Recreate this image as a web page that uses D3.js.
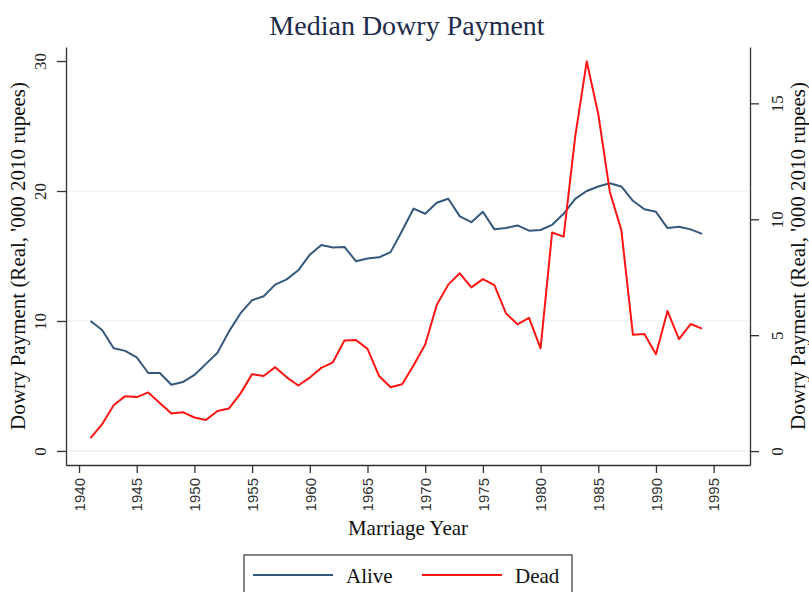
<!DOCTYPE html>
<html>
<head>
<meta charset="utf-8">
<script src="https://cdn.jsdelivr.net/npm/d3@7"></script>
<style>
  body { margin: 0; background: #fff; }
  svg { display: block; }
</style>
</head>
<body>
<svg id="chart" width="809" height="592"></svg>
<script>
// marriage years and median dowry ('000 2010 rupees)
var years = [1941, 1942, 1943, 1944, 1945, 1946, 1947, 1948, 1949, 1950,
             1951, 1952, 1953, 1954, 1955, 1956, 1957, 1958, 1959, 1960,
             1961, 1962, 1963, 1964, 1965, 1966, 1967, 1968, 1969, 1970,
             1971, 1972, 1973, 1974, 1975, 1976, 1977, 1978, 1979, 1980,
             1981, 1982, 1983, 1984, 1985, 1986, 1987, 1988, 1989, 1990,
             1991, 1992, 1993, 1994];

// left axis
var alive = [10.0, 9.3, 7.9, 7.7, 7.2, 6.0, 6.0, 5.1, 5.3, 5.85,
             6.7, 7.55, 9.2, 10.6, 11.6, 11.9, 12.8, 13.2, 13.9, 15.1,
             15.85, 15.65, 15.7, 14.6, 14.8, 14.9, 15.3, 16.95, 18.65, 18.25,
             19.1, 19.4, 18.05, 17.6, 18.4, 17.05, 17.15, 17.35, 16.95, 17.0,
             17.4, 18.25, 19.4, 20.0, 20.35, 20.6, 20.35, 19.25, 18.6, 18.4,
             17.15, 17.25, 17.05, 16.7];

// right axis
var dead = [0.56, 1.16, 1.98, 2.37, 2.33, 2.53, 2.07, 1.62, 1.68, 1.45,
            1.34, 1.73, 1.84, 2.49, 3.32, 3.24, 3.62, 3.18, 2.83, 3.17,
            3.59, 3.83, 4.77, 4.79, 4.41, 3.24, 2.75, 2.88, 3.70, 4.60,
            6.30, 7.18, 7.67, 7.06, 7.42, 7.16, 5.94, 5.47, 5.75, 4.43,
            9.43, 9.25, 13.56, 16.81, 14.54, 11.19, 9.53, 5.02, 5.05, 4.18,
            6.04, 4.83, 5.48, 5.28];

var xTicks = [1940, 1945, 1950, 1955, 1960, 1965, 1970, 1975, 1980, 1985, 1990, 1995];
var leftTicks = [0, 10, 20, 30];
var rightTicks = [0, 5, 10, 15];
var gridVals = [0, 10, 20];

var serif = "'Liberation Serif', 'Times New Roman', serif";
var blue = "#34587c", red = "#ff1414";

var svg = d3.select("#chart");
var pLeft = 66, pRight = 750, pTop = 47, pBottom = 465;

var x = d3.scaleLinear().domain([1938.87, 1998.15]).range([pLeft, pRight]);
var yL = d3.scaleLinear().domain([-1.08, 31.08]).range([pBottom, pTop]);
var yR = d3.scaleLinear().domain([-0.6, 17.43]).range([pBottom, pTop]);

// title
svg.append("text")
    .attr("x", 407).attr("y", 35)
    .attr("text-anchor", "middle")
    .style("font-family", serif).style("font-size", "28px")
    .style("fill", "#1e2b4a")
    .text("Median Dowry Payment");

// grid
svg.append("g").selectAll("line")
    .data(gridVals)
    .enter().append("line")
    .attr("x1", pLeft).attr("x2", pRight)
    .attr("y1", function (d) { return yL(d); })
    .attr("y2", function (d) { return yL(d); })
    .style("stroke", "#e6eff2").style("stroke-width", 1.2);

function styleAxis(g) {
    g.select(".domain").style("stroke", "#333").style("stroke-width", 1.3);
    g.selectAll(".tick line").style("stroke", "#333").style("stroke-width", 1.3);
}

// bottom axis
var gx = svg.append("g")
    .attr("transform", "translate(0," + pBottom + ")")
    .call(d3.axisBottom(x).tickValues(xTicks).tickFormat(d3.format("d")).tickSize(8).tickSizeOuter(0));
styleAxis(gx);
gx.selectAll(".tick text")
    .attr("x", 0).attr("y", 0).attr("dy", "0.35em")
    .attr("transform", "translate(0,13) rotate(-90)")
    .attr("text-anchor", "end")
    .style("font-family", "'Liberation Sans', Arial, sans-serif").style("font-size", "15px")
    .style("fill", "#333");

// left axis
var gl = svg.append("g")
    .attr("transform", "translate(" + pLeft + ",0)")
    .call(d3.axisLeft(yL).tickValues(leftTicks).tickSize(9).tickSizeOuter(0));
styleAxis(gl);
gl.selectAll(".tick text")
    .attr("x", 0).attr("y", 0).attr("dy", "0.35em")
    .attr("transform", "translate(-26,0) rotate(-90)")
    .attr("text-anchor", "middle")
    .style("font-family", serif).style("font-size", "17px")
    .style("fill", "#222");

// right axis
var gr = svg.append("g")
    .attr("transform", "translate(" + pRight + ",0)")
    .call(d3.axisRight(yR).tickValues(rightTicks).tickSize(9).tickSizeOuter(0));
styleAxis(gr);
gr.selectAll(".tick text")
    .attr("x", 0).attr("y", 0).attr("dy", "0.35em")
    .attr("transform", "translate(27,0) rotate(-90)")
    .attr("text-anchor", "middle")
    .style("font-family", serif).style("font-size", "17px")
    .style("fill", "#222");

// axis titles
var ylab = "Dowry Payment (Real, '000 2010 rupees)";
svg.append("text")
    .attr("transform", "translate(18," + ((pTop + pBottom) / 2) + ") rotate(-90)")
    .attr("dy", "0.35em")
    .attr("text-anchor", "middle")
    .style("font-family", serif).style("font-size", "21px").style("fill", "#111")
    .text(ylab);
svg.append("text")
    .attr("transform", "translate(798," + ((pTop + pBottom) / 2) + ") rotate(-90)")
    .attr("dy", "0.35em")
    .attr("text-anchor", "middle")
    .style("font-family", serif).style("font-size", "21px").style("fill", "#111")
    .text(ylab);
svg.append("text")
    .attr("x", (pLeft + pRight) / 2).attr("y", 535)
    .attr("text-anchor", "middle")
    .style("font-family", serif).style("font-size", "21px").style("fill", "#111")
    .text("Marriage Year");

// lines
var lineL = d3.line()
    .x(function (d, i) { return x(years[i]); })
    .y(function (d) { return yL(d); });
var lineR = d3.line()
    .x(function (d, i) { return x(years[i]); })
    .y(function (d) { return yR(d); });

svg.append("path").datum(alive)
    .attr("d", lineL)
    .style("fill", "none").style("stroke", blue).style("stroke-width", 2)
    .style("stroke-linejoin", "round");
svg.append("path").datum(dead)
    .attr("d", lineR)
    .style("fill", "none").style("stroke", red).style("stroke-width", 2)
    .style("stroke-linejoin", "round");

// legend
var lg = svg.append("g");
lg.append("rect")
    .attr("x", 244).attr("y", 555).attr("width", 328).attr("height", 50)
    .style("fill", "#fff").style("stroke", "#444").style("stroke-width", 1.3);
var items = [{ name: "Alive", color: blue, x: 253, tx: 346 },
             { name: "Dead", color: red, x: 422, tx: 515 }];
items.forEach(function (it) {
    lg.append("line")
        .attr("x1", it.x).attr("x2", it.x + 80)
        .attr("y1", 575).attr("y2", 575)
        .style("stroke", it.color).style("stroke-width", 2);
    lg.append("text")
        .attr("x", it.tx).attr("y", 583)
        .style("font-family", serif).style("font-size", "21px").style("fill", "#111")
        .text(it.name);
});
</script>
</body>
</html>
